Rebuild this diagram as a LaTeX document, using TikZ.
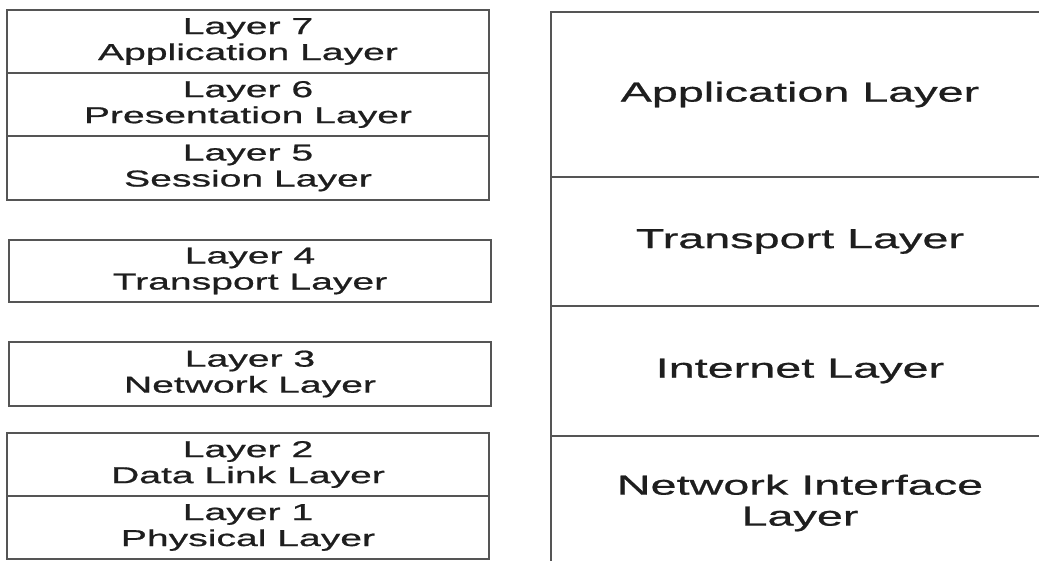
\documentclass[tikz,border=0pt]{standalone}
\usepackage{fontspec}
\setmainfont{Liberation Sans}
\newfontfamily\wideface[FakeStretch=1.7,FakeBold=0.8]{Liberation Sans}
\definecolor{edge}{HTML}{555555}
\definecolor{ink}{HTML}{1E1E1E}
\begin{document}
\begin{tikzpicture}[x=1pt,y=-1pt,
  osi/.style={draw=edge, line width=1.3pt, text=ink, align=center,
    inner sep=0pt, minimum width=482pt,
    font=\wideface\fontsize{23}{26}\selectfont},
  tcpip/.style={draw=edge, line width=1.3pt, text=ink, align=center,
    inner sep=0pt, minimum width=498pt,
    font=\wideface\fontsize{27.5}{31}\selectfont}]
\useasboundingbox (0,0) rectangle (1039,561);
\fill[white] (0,0) rectangle (1039,561);
\clip (0,0) rectangle (1039,561);
% OSI model (left)
\node[osi, minimum height=63pt] (l7) at (248,41.5) {Layer 7\\Application Layer};
\node[osi, minimum height=63pt] (l6) at (248,104.5) {Layer 6\\Presentation Layer};
\node[osi, minimum height=64pt] (l5) at (248,168) {Layer 5\\Session Layer};
\node[osi, minimum height=62pt] (l4) at (250,271) {Layer 4\\Transport Layer};
\node[osi, minimum height=64pt] (l3) at (250,374) {Layer 3\\Network Layer};
\node[osi, minimum height=63pt] (l2) at (248,464.5) {Layer 2\\Data Link Layer};
\node[osi, minimum height=63pt] (l1) at (248,527.5) {Layer 1\\Physical Layer};
% TCP/IP model (right)
\node[tcpip, minimum height=165pt] (app) at (800,94.5) {Application Layer};
\node[tcpip, minimum height=129pt] (tra) at (800,241.5) {Transport Layer};
\node[tcpip, minimum height=130pt] (int) at (800,371) {Internet Layer};
\node[tcpip, minimum height=134pt] (nif) at (800,503) {Network Interface\\Layer};
\end{tikzpicture}
\end{document}
